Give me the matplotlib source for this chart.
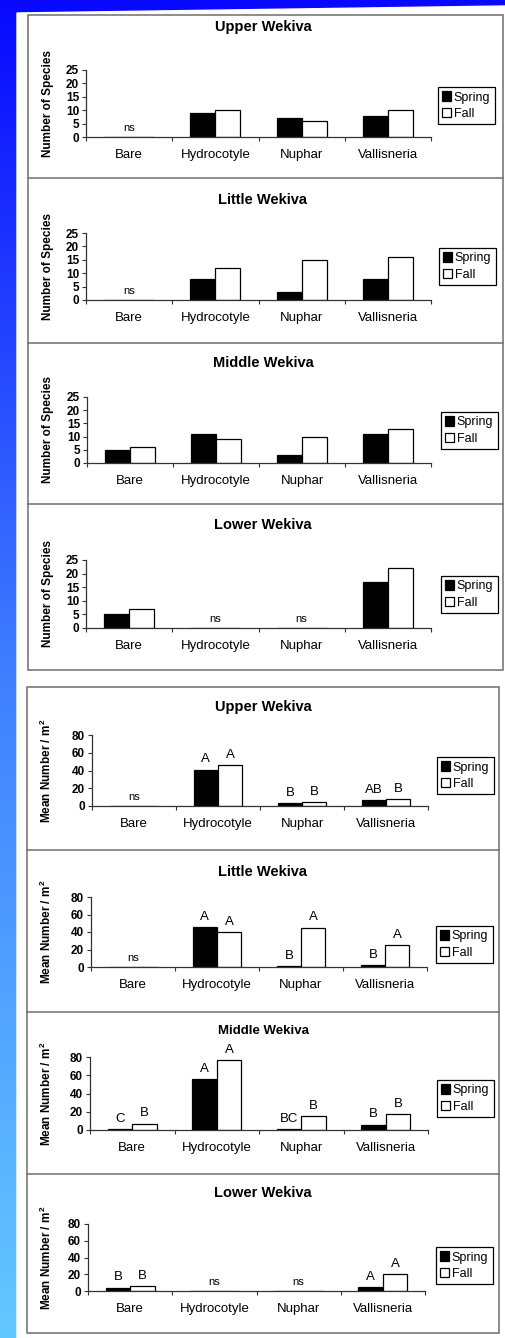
import numpy as np
import matplotlib
matplotlib.use('Agg')
import matplotlib.pyplot as plt
from matplotlib.patches import Rectangle, Polygon

W, H = 505, 1338

plt.rcParams['font.family'] = ['Liberation Sans', 'DejaVu Sans']
plt.rcParams['mathtext.fontset'] = 'custom'
plt.rcParams['mathtext.rm'] = 'Liberation Sans'
plt.rcParams['mathtext.bf'] = 'Liberation Sans:bold'

# data
categories = ['Bare', 'Hydrocotyle', 'Nuphar', 'Vallisneria']
sites = ['Upper Wekiva', 'Little Wekiva', 'Middle Wekiva', 'Lower Wekiva']
seasons = ['Spring', 'Fall']

species_spring = [[0, 9, 7, 8], [0, 8, 3, 8], [5, 11, 3, 11], [5, 0, 0, 17]]
species_fall = [[0, 10, 6, 10], [0, 12, 15, 16], [6, 9, 10, 13], [7, 0, 0, 22]]
species_ns = [['ns', '', '', ''], ['ns', '', '', ''], ['', '', '', ''], ['', 'ns', 'ns', '']]
species_ticks = [0, 5, 10, 15, 20, 25]

density_spring = [[0, 41, 3, 7], [0, 46, 1, 2], [1, 56, 1, 6], [4, 0, 0, 5]]
density_fall = [[0, 46, 4, 7.5], [0, 40, 45, 25], [7, 77, 15, 17], [6, 0, 0, 20]]
density_ns = [['ns', '', '', ''], ['ns', '', '', ''], ['', '', '', ''], ['', 'ns', 'ns', '']]
letters_spring = [['', 'A', 'B', 'AB'], ['', 'A', 'B', 'B'], ['C', 'A', 'BC', 'B'], ['B', '', '', 'A']]
letters_fall = [['', 'A', 'B', 'B'], ['', 'A', 'A', 'A'], ['B', 'A', 'B', 'B'], ['B', '', '', 'A']]
density_ticks = [0, 20, 40, 60, 80]

# layout in pixels (x0, y0, x1, y1), y measured from the top
species_axes = [(86, 70, 431, 137), (86, 233, 431, 300), (87, 397, 431, 463), (86, 560, 431, 628)]
density_axes = [(92, 735, 428, 806), (91, 897, 427, 967), (90, 1057, 428, 1130), (88, 1224, 425, 1291)]
species_title_y = [27, 200, 363, 525]
density_title_y = [707, 872, 1031, 1193]
species_leg = [(438, 87), (439, 248), (441, 412), (441, 576)]
density_leg = [(437, 757), (436, 926), (437, 1080), (436, 1247)]


def fr(box):
    x0, y0, x1, y1 = box
    return [x0 / W, 1 - y1 / H, (x1 - x0) / W, (y1 - y0) / H]


fig = plt.figure(figsize=(W / 100, H / 100), dpi=100)

# slide background: blue gradient strip on left and top
bg = fig.add_axes([0, 0, 1, 1])
stops_y = [0, 680, 1338]
stops_c = np.array([[8, 8, 255], [64, 128, 255], [100, 200, 255]]) / 255
yy = np.arange(H)
grad = np.stack([np.interp(yy, stops_y, stops_c[:, k]) for k in range(3)], axis=1)
bg.imshow(grad[:, None, :], extent=[0, W, H, 0], aspect='auto')
bg.add_patch(Polygon([(17, 13), (W, 6), (W, H), (17, H)], closed=True, color='white'))
bg.set_xlim(0, W)
bg.set_ylim(H, 0)
bg.axis('off')

frame = dict(fill=False, edgecolor='#6e6e6e', linewidth=1.1)
bg.add_patch(Rectangle((28, 15), 475, 655, **frame))
for y in [178, 343, 504]:
    bg.plot([28, 503], [y, y], color='#6e6e6e', lw=1.1)
bg.add_patch(Rectangle((27, 687), 472, 646, **frame))
for y in [850, 1012, 1174]:
    bg.plot([27, 499], [y, y], color='#6e6e6e', lw=1.1)

x = np.arange(len(categories)) + 0.5
w = 0.29


def draw_panel(box, title, title_y, spring, fall, ticks, ylabel, ns, leg, ls=None, lf=None, small=False):
    ax = fig.add_axes(fr(box))
    ax.patch.set_alpha(0)
    b1 = ax.bar(x - w / 2, spring, w, color='black', edgecolor='black', lw=0.9, label=seasons[0])
    b2 = ax.bar(x + w / 2, fall, w, color='white', edgecolor='black', lw=0.9, label=seasons[1])
    ax.set_xlim(0, len(categories))
    ax.set_ylim(0, ticks[-1])
    ax.set_yticks(ticks)
    ax.set_yticklabels([str(t) for t in ticks], fontsize=8.5, fontweight='bold')
    ax.set_xticks(np.arange(len(categories) + 1))
    ax.set_xticklabels([])
    ax.set_xticks(x, minor=True)
    ax.set_xticklabels(categories, minor=True, fontsize=9.5)
    ax.tick_params(axis='x', which='minor', length=0, pad=8.5)
    ax.tick_params(axis='x', which='major', length=3, width=0.8, color='#333333')
    ax.tick_params(axis='y', length=3, width=0.8, color='#333333', pad=2)
    for s in ['top', 'right']:
        ax.spines[s].set_visible(False)
    for s in ['left', 'bottom']:
        ax.spines[s].set_linewidth(0.9)
        ax.spines[s].set_color('#333333')
    ax.set_ylabel(ylabel, fontsize=8.5, fontweight='bold')
    ax.yaxis.set_label_coords((54 - box[0]) / (box[2] - box[0]), 0.5)
    for i, t in enumerate(ns):
        if t:
            ax.annotate(t, (x[i], 0), xytext=(0, 3), textcoords='offset points',
                        ha='center', va='bottom', fontsize=8)
    if ls is not None:
        for i in range(len(categories)):
            if ls[i]:
                ax.annotate(ls[i], (x[i] - w / 2, spring[i]), xytext=(0, 3), textcoords='offset points',
                            ha='center', va='bottom', fontsize=9.5)
            if lf[i]:
                ax.annotate(lf[i], (x[i] + w / 2, fall[i]), xytext=(0, 3), textcoords='offset points',
                            ha='center', va='bottom', fontsize=9.5)
    fig.text(263 / W, 1 - title_y / H, title, ha='center', va='center',
             fontsize=9.5 if small else 10.5, fontweight='bold')
    lg = ax.legend(handles=[b1, b2], loc='upper left', bbox_to_anchor=(leg[0] / W, 1 - leg[1] / H),
                   bbox_transform=fig.transFigure, borderaxespad=0, fontsize=9,
                   handlelength=0.7, handleheight=0.8, handletextpad=0.2, borderpad=0.35,
                   labelspacing=0.35, fancybox=False, framealpha=1, edgecolor='black')
    lg.get_frame().set_linewidth(0.9)
    return ax


for k in range(4):
    draw_panel(species_axes[k], sites[k], species_title_y[k], species_spring[k], species_fall[k],
               species_ticks, 'Number of Species', species_ns[k], species_leg[k])
    draw_panel(density_axes[k], sites[k], density_title_y[k], density_spring[k], density_fall[k],
               density_ticks, r'Mean Number / m$^{\mathbf{2}}$', density_ns[k], density_leg[k],
               letters_spring[k], letters_fall[k], small=(k == 2))

fig.savefig('out.png', dpi=100)
